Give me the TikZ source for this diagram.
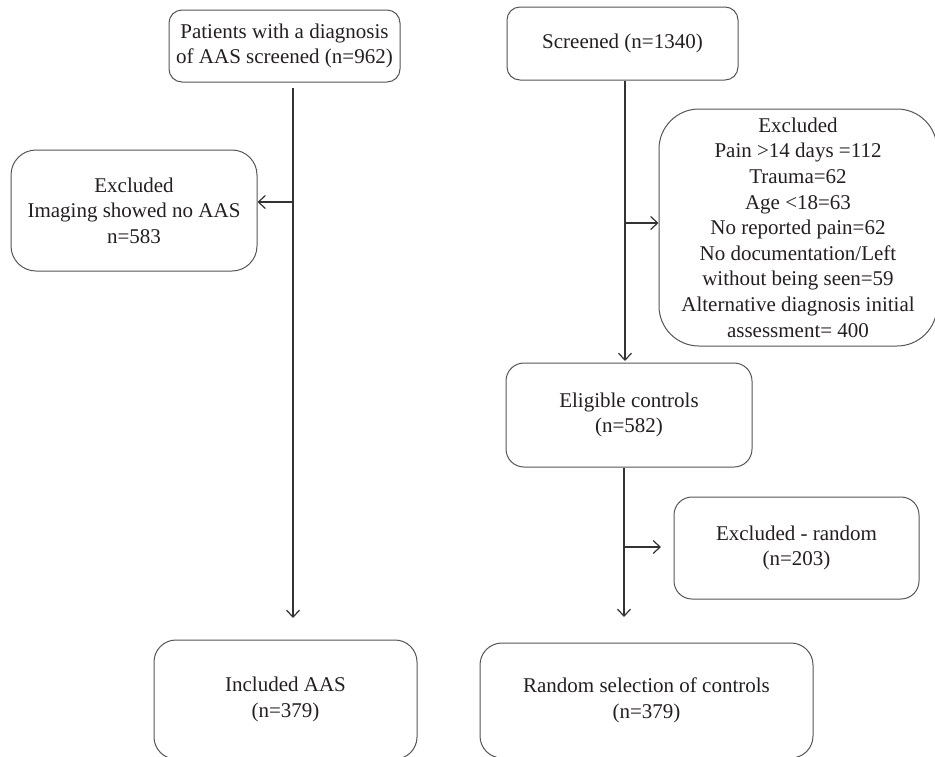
\documentclass[tikz,border=0pt]{standalone}
\usepackage{fontspec}
\setmainfont{Liberation Serif}
\usetikzlibrary{arrows.meta}
\definecolor{boxline}{HTML}{555555}
\definecolor{arrline}{HTML}{333333}
\definecolor{txt}{HTML}{231F20}
\tikzset{
  box/.style={draw=boxline, line width=1pt, align=center, inner sep=0pt, text=txt,
              font=\fontsize{21}{25.6}\selectfont},
  arr/.style={draw=arrline, line width=1.2pt, -{Straight Barb[length=7pt,width=13pt,line width=1.2pt]}}
}
\begin{document}
\begin{tikzpicture}[x=1pt,y=-1pt]
\useasboundingbox (0,0) rectangle (935,756);
% left column
\node[box, rounded corners=13pt, minimum width=231pt, minimum height=72pt] (p1) at (284.5,46)
  {Patients with a diagnosis\\of AAS screened (n=962)};
\node[box, rounded corners=25pt, minimum width=246pt, minimum height=121pt] (ex1) at (134,210.5)
  {Excluded\\Imaging showed no AAS\\n=583};
\node[box, rounded corners=22pt, minimum width=263pt, minimum height=119pt] (inc) at (285.5,699.5)
  {Included AAS\\(n=379)};
% right column
\node[box, rounded corners=13pt, minimum width=231pt, minimum height=73pt] (s1) at (622.5,43.5)
  {Screened (n=1340)};
\node[box, rounded corners=40pt, minimum width=278pt, minimum height=237pt] (ex2) at (798,227.5)
  {Excluded\\Pain >14 days =112\\Trauma=62\\Age <18=63\\No reported pain=62\\No documentation/Left\\without being seen=59\\Alternative diagnosis initial\\assessment= 400};
\node[box, rounded corners=18pt, minimum width=246pt, minimum height=104pt] (el) at (629,415)
  {Eligible controls\\(n=582)};
\node[box, rounded corners=18pt, minimum width=245pt, minimum height=102pt] (ex3) at (796.5,548)
  {Excluded - random\\(n=203)};
\node[box, rounded corners=22pt, minimum width=333pt, minimum height=115pt] (rnd) at (646.5,700.5)
  {Random selection of controls\\(n=379)};
% connectors left
\coordinate (a1) at (293,88);
\coordinate (a1e) at (293,618);
\coordinate (b1) at (293,202);
\draw[arr] (a1) -- (a1e);
\draw[arr] (b1) -- (b1 -| ex1.east);
% connectors right
\coordinate (c1) at (625,361);
\coordinate (b2) at (625,223);
\draw[arr] (s1.south -| c1) -- (c1);
\draw[arr] (b2) -- (b2 -| ex2.west);
\coordinate (c2) at (624,617);
\coordinate (b3) at (624,547);
\coordinate (e3) at (661,547);
\draw[arr] (el.south -| c2) -- (c2);
\draw[arr] (b3) -- (e3);
\end{tikzpicture}
\end{document}
